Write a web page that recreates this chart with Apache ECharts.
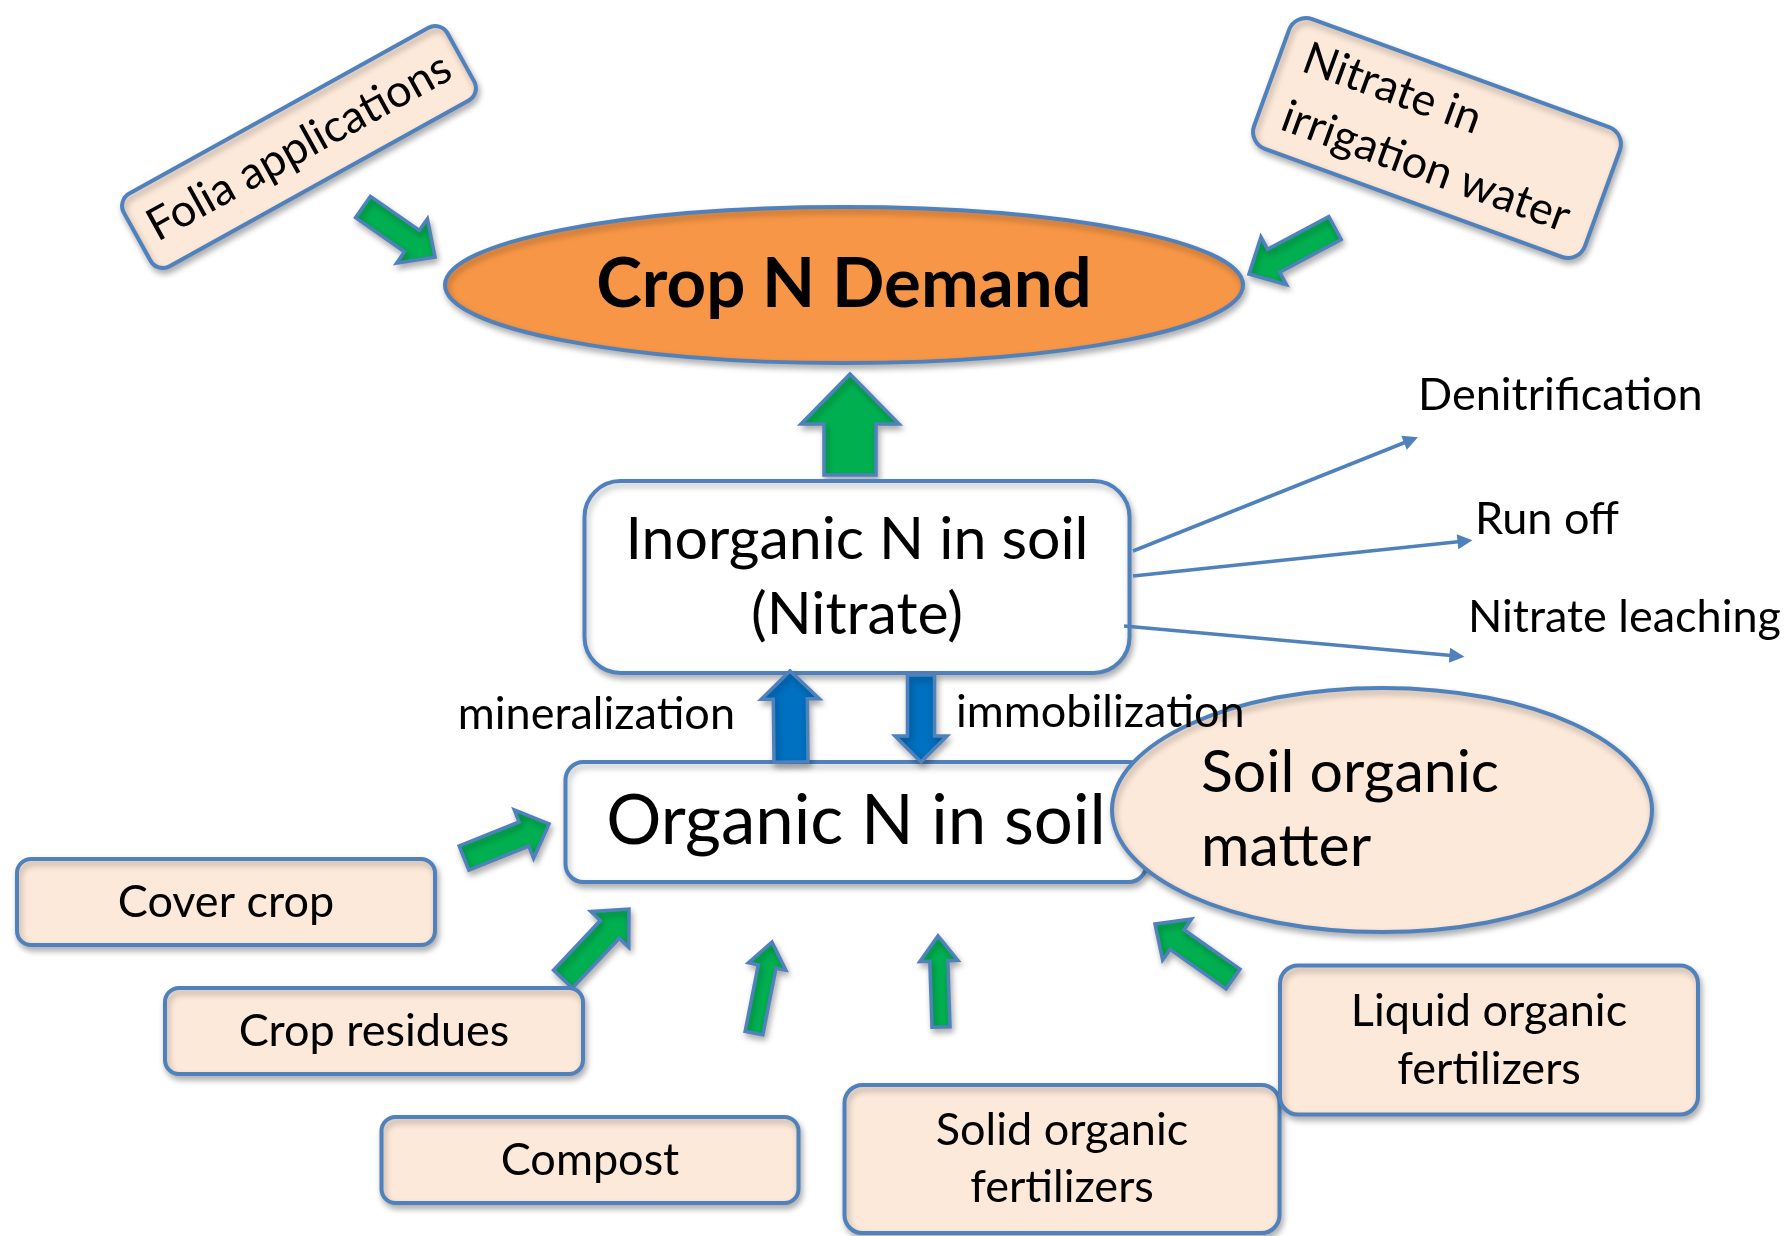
<!DOCTYPE html>
<html>
<head>
<meta charset="utf-8">
<title>Crop N Demand</title>
<script src="https://cdn.jsdelivr.net/npm/echarts@6/dist/echarts.min.js"></script>
<style>
  html, body { margin: 0; padding: 0; background: #fff; }
  #chart { width: 1789px; height: 1236px; }
</style>
</head>
<body>
<div id="chart"></div>
<script>
// labels of the diagram
const nodeNames = ['Crop N Demand', 'Inorganic N in soil\n(Nitrate)', 'Organic N in soil', 'Soil organic\nmatter',
  'Folia applications', 'Nitrate in\nirrigation water', 'Cover crop', 'Crop residues', 'Compost',
  'Solid organic\nfertilizers', 'Liquid organic\nfertilizers'];
const lossNames = ['Denitrification', 'Run off', 'Nitrate leaching'];
const processNames = ['mineralization', 'immobilization'];

// layout (picture pixels): centre, size, tilt
const nodeX = [844, 857, 856, 1382, 299, 1437, 226, 374, 590, 1062, 1489];
const nodeY = [285, 577, 822, 810, 147, 138, 902, 1031, 1160, 1159, 1040];
const nodeW = [798, 545, 581, 540, 370, 352, 418, 418, 417, 435, 418];
const nodeH = [156, 192, 120, 244, 83, 138, 86, 86, 86, 148, 149];
const nodeTilt = [0, 0, 0, 0, 29, -20, 0, 0, 0, 0, 0];

// green feed arrows: tail -> tip
const feedTail = [[850, 475], [363, 207], [1335, 228], [464, 858], [563, 979], [754, 1033], [941, 1027], [1233, 979]];
const feedTip = [[850, 374], [435, 257], [1249, 274], [549, 824], [629, 909], [772, 942], [938, 936], [1155, 924]];
// blue transformation arrows
const swapTail = [[791, 762], [921, 675]];
const swapTip = [[790, 671], [921, 762]];
// loss lines from the inorganic pool
const lossFrom = [[1133, 551], [1133, 576], [1124, 626]];
const lossTo = [[1411, 440], [1465, 541], [1457, 656]];
const lossLabelPos = [[1418, 395], [1475, 519], [1468, 617]];
const processLabelPos = [[735, 714], [956, 712]];

// styles
const BLUE = '#4F81BD';
const PEACH = '#FDE9D9';
const FONT = 'Lato, "Open Sans", sans-serif';
const nodeShape = ['ellipse', 'rect', 'rect', 'ellipse', 'rect', 'rect', 'rect', 'rect', 'rect', 'rect', 'rect'];
const nodeFill = ['#F79646', '#FFFFFF', '#FFFFFF', PEACH, PEACH, PEACH, PEACH, PEACH, PEACH, PEACH, PEACH];
const nodeRadius = [0, 36, 18, 0, 14, 18, 14, 14, 14, 18, 18];
const nodeFont = [69, 59, 69, 59, 45, 45, 45, 45, 45, 45, 45];
const nodeLineH = [80, 75, 80, 74, 56, 62, 56, 56, 56, 57, 58];
const nodeAlign = ['center', 'center', 'center', 'left', 'center', 'left', 'center', 'center', 'center', 'center', 'center'];
const nodeTextDx = [0, 0, 0, -181, 0, -152, 0, 0, 0, 0, 0];
const feedSize = [[26, 49, 50], [13, 27, 28], [13, 27, 28], [13, 26, 27], [13, 26, 28], [9, 19, 25], [9, 19, 25], [12, 25, 27]];
const swapSize = [[17, 29, 28], [13.5, 26, 26]];
const processAlign = ['right', 'left'];

const shadow = { shadowBlur: 6, shadowOffsetX: 2, shadowOffsetY: 4, shadowColor: 'rgba(0,0,0,0.28)' };

function arrowPoints(t, p, a, b, L) {
  const dx = p[0] - t[0], dy = p[1] - t[1];
  const len = Math.sqrt(dx * dx + dy * dy);
  const ux = dx / len, uy = dy / len;
  const nx = -uy, ny = ux;
  const hx = p[0] - L * ux, hy = p[1] - L * uy;
  return [
    [t[0] + a * nx, t[1] + a * ny], [hx + a * nx, hy + a * ny], [hx + b * nx, hy + b * ny],
    [p[0], p[1]],
    [hx - b * nx, hy - b * ny], [hx - a * nx, hy - a * ny], [t[0] - a * nx, t[1] - a * ny]
  ];
}

function arrowSeries(name, tails, tips, sizes, fill) {
  return {
    type: 'custom', name: name, coordinateSystem: 'cartesian2d', silent: true,
    data: tails.map((t, i) => [t[0], t[1], tips[i][0], tips[i][1]]),
    renderItem: function (params, api) {
      const i = params.dataIndex;
      const t = api.coord([api.value(0), api.value(1)]);
      const p = api.coord([api.value(2), api.value(3)]);
      const sz = sizes[i];
      return {
        type: 'polygon',
        shape: { points: arrowPoints(t, p, sz[0], sz[1], sz[2]) },
        style: Object.assign({ fill: fill, stroke: BLUE, lineWidth: 3.5, lineJoin: 'miter' }, shadow)
      };
    }
  };
}

const chart = echarts.init(document.getElementById('chart'));

const option = {
  animation: false,
  backgroundColor: '#fff',
  grid: { left: 0, right: 0, top: 0, bottom: 0 },
  xAxis: { type: 'value', min: 0, max: 1789, show: false },
  yAxis: { type: 'value', min: 0, max: 1236, inverse: true, show: false },
  series: [
    arrowSeries('feed', feedTail, feedTip, feedSize, '#00B050'),
    {
      type: 'custom', name: 'nodes', coordinateSystem: 'cartesian2d', silent: true,
      data: nodeNames.map((n, i) => ({ name: n, value: [nodeX[i], nodeY[i], nodeW[i], nodeH[i]] })),
      renderItem: function (params, api) {
        const i = params.dataIndex;
        const c = api.coord([api.value(0), api.value(1)]);
        const s = api.size([api.value(2), api.value(3)]);
        const w = s[0], h = s[1];
        const style = Object.assign({ fill: nodeFill[i], stroke: BLUE, lineWidth: 4 }, shadow);
        const shape = nodeShape[i] === 'ellipse'
          ? { type: 'ellipse', shape: { cx: 0, cy: 0, rx: w / 2, ry: h / 2 }, style: style }
          : { type: 'rect', shape: { x: -w / 2, y: -h / 2, width: w, height: h, r: nodeRadius[i] }, style: style };
        return {
          type: 'group', x: c[0], y: c[1], rotation: nodeTilt[i] * Math.PI / 180,
          children: [shape, {
            type: 'text', x: nodeTextDx[i], y: 0,
            style: {
              text: nodeNames[i], fill: '#000', fontFamily: FONT,
              fontSize: nodeFont[i], fontWeight: i === 0 ? 'bold' : 'normal',
              lineHeight: nodeLineH[i], align: nodeAlign[i], verticalAlign: 'middle'
            }
          }]
        };
      }
    },
    arrowSeries('transform', swapTail, swapTip, swapSize, '#0070C0'),
    {
      type: 'lines', name: 'losses', coordinateSystem: 'cartesian2d', silent: true,
      data: lossNames.map((n, i) => ({ name: n, coords: [lossFrom[i], lossTo[i]] })),
      symbol: ['none', 'triangle'], symbolSize: [13, 15],
      lineStyle: { color: BLUE, width: 3.5, opacity: 1, curveness: 0 },
      itemStyle: { color: BLUE }
    },
    {
      type: 'custom', name: 'labels', coordinateSystem: 'cartesian2d', silent: true,
      data: lossNames.map((n, i) => ({ name: n, value: lossLabelPos[i] }))
        .concat(processNames.map((n, i) => ({ name: n, value: processLabelPos[i] }))),
      renderItem: function (params, api) {
        const i = params.dataIndex;
        const c = api.coord([api.value(0), api.value(1)]);
        const isLoss = i < lossNames.length;
        return {
          type: 'text', x: c[0], y: c[1],
          style: {
            text: isLoss ? lossNames[i] : processNames[i - lossNames.length],
            fill: '#000', fontFamily: FONT, fontSize: 45,
            align: isLoss ? 'left' : processAlign[i - lossNames.length], verticalAlign: 'middle'
          }
        };
      }
    }
  ]
};

chart.setOption(option);
</script>
</body>
</html>
